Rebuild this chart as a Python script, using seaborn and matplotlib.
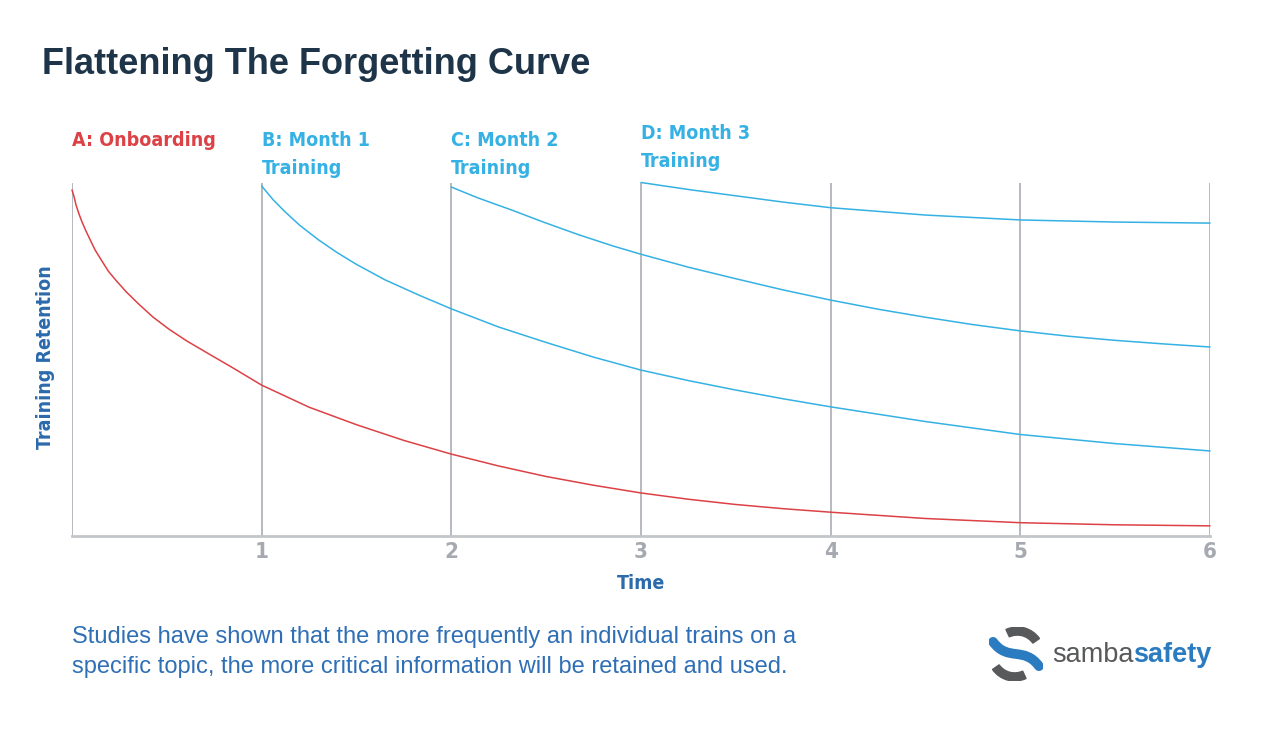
import numpy as np
import pandas as pd
import matplotlib
matplotlib.use("Agg")
import matplotlib.pyplot as plt
import seaborn as sns
from matplotlib.patches import Wedge, PathPatch
from matplotlib.path import Path

# Curvas de retención (tiempo en meses, retención 0-100)
a_time = [0, 0.011, 0.021, 0.037, 0.053, 0.074, 0.096, 0.122, 0.154, 0.191, 0.234, 0.287,
          0.351, 0.426, 0.511, 0.606, 0.713, 0.84, 1, 1.25, 1.5, 1.75, 2, 2.25, 2.5, 2.75,
          3, 3.25, 3.5, 3.75, 4, 4.5, 5, 5.5, 6]
a_ret = [98.9, 96.9, 94.6, 92.0, 89.7, 87.1, 84.6, 81.7, 78.9, 75.7, 72.9, 69.7,
         66.3, 62.6, 59.1, 55.7, 52.3, 48.3, 43.1, 36.8, 31.8, 27.3, 23.4, 20.0, 17.0, 14.5,
         12.3, 10.5, 9.0, 7.8, 6.8, 5.0, 3.8, 3.2, 2.9]

b_time = [1, 1.06, 1.12, 1.2, 1.3, 1.4, 1.5, 1.65, 1.83, 2, 2.25, 2.5, 2.75, 3, 3.25, 3.5,
          3.75, 4, 4.5, 5, 5.5, 6]
b_ret = [100, 96.1, 92.8, 88.8, 84.6, 80.9, 77.6, 73.2, 68.8, 64.9, 59.7, 55.3, 51.1, 47.4,
         44.4, 41.7, 39.2, 36.9, 32.7, 29.0, 26.4, 24.3]

c_time = [2, 2.14, 2.32, 2.49, 2.67, 2.85, 3, 3.25, 3.5, 3.75, 4, 4.25, 4.5, 4.75, 5, 5.25,
          5.5, 5.75, 6]
c_ret = [99.7, 96.6, 93.1, 89.6, 86.1, 82.9, 80.5, 76.8, 73.5, 70.3, 67.4, 64.8, 62.5, 60.4,
         58.6, 57.1, 55.9, 54.9, 54.0]

d_time = [3, 3.25, 3.5, 3.75, 4, 4.5, 5, 5.5, 6]
d_ret = [101.0, 99.0, 97.2, 95.4, 93.8, 91.7, 90.3, 89.7, 89.4]

labels = ["A: Onboarding", "B: Month 1\nTraining", "C: Month 2\nTraining", "D: Month 3\nTraining"]
label_x = [0, 1, 2, 3]
label_y = [113, 109, 109, 111]
month_ticks = [1, 2, 3, 4, 5, 6]

RED = "#dc4145"
BLUE = "#35b1e4"
NAVY = "#1e3549"
MIDBLUE = "#2b6aab"
GRAY = "#a9adb3"

df = pd.concat([
    pd.DataFrame({"time": a_time, "ret": a_ret, "serie": "A"}),
    pd.DataFrame({"time": b_time, "ret": b_ret, "serie": "B"}),
    pd.DataFrame({"time": c_time, "ret": c_ret, "serie": "C"}),
    pd.DataFrame({"time": d_time, "ret": d_ret, "serie": "D"}),
])

sns.set_style("white")
plt.rcParams["font.family"] = ["Liberation Sans", "DejaVu Sans"]
COND = dict(family="DejaVu Sans", fontstretch="condensed", fontweight="bold")

fig = plt.figure(figsize=(12.64, 7.29), dpi=100)
ax = fig.add_axes([72 / 1264, 193 / 729, 1138 / 1264, 357 / 729])

# lineas verticales de los meses
ax.vlines([0] + month_ticks, 0, 100.8, color=GRAY, lw=1.2, zorder=1)

sns.lineplot(data=df, x="time", y="ret", hue="serie", palette=[RED, BLUE, BLUE, BLUE],
             estimator=None, sort=False, lw=1.1, legend=False, ax=ax, zorder=3)
for l in ax.lines:
    l.set_clip_on(False)

ax.set_xlim(0, 6)
ax.set_ylim(0, 102)
for s in ["top", "right", "left"]:
    ax.spines[s].set_visible(False)
ax.spines["bottom"].set_color("#c3c6ca")
ax.spines["bottom"].set_linewidth(2)
ax.set_yticks([])
ax.set_xticks(month_ticks)
ax.set_xticklabels([str(m) for m in month_ticks], fontsize=16, color="#a6aab0", **COND)
ax.tick_params(axis="x", length=0, pad=4)
ax.set_xlabel("Time", fontsize=14, color=MIDBLUE, labelpad=9, **COND)
ax.set_ylabel("Training Retention", fontsize=14, color=MIDBLUE, labelpad=12, **COND)

# etiquetas de cada curva
for i, (lab, xx, yy) in enumerate(zip(labels, label_x, label_y)):
    ax.text(xx, yy, lab, fontsize=14, color=RED if i == 0 else BLUE, ha="left",
            va="center", linespacing=1.55, clip_on=False, **COND)

# titulo y texto inferior
fig.text(42 / 1264, 1 - 65 / 729, "Flattening The Forgetting Curve", fontsize=26,
         fontweight="bold", color=NAVY, ha="left", va="center")
fig.text(72 / 1264, 1 - 652 / 729,
         "Studies have shown that the more frequently an individual trains on a\n"
         "specific topic, the more critical information will be retained and used.",
         fontsize=17, color="#2f6fb5", ha="left", va="center", linespacing=1.47)

# logo sambasafety
t1 = fig.text(1052 / 1264, 1 - 662 / 729, "samba", fontsize=19.5, color="#58595b",
              ha="left", va="baseline")
fig.canvas.draw()
bb = t1.get_window_extent()
fig.text(bb.x1 / 1264, 1 - 662 / 729, "safety", fontsize=19.5, fontweight="bold",
         color="#2a7bc0", ha="left", va="baseline")

lax = fig.add_axes([989 / 1264, 1 - 681 / 729, 54 / 1264, 54 / 729])
lax.set_xlim(-1, 1)
lax.set_ylim(-1, 1)
lax.set_aspect("equal")
lax.axis("off")
lax.add_patch(Wedge((0.05, 0.0), 1.0, 35, 115, width=0.3, color="#58595b"))
lax.add_patch(Wedge((-0.05, 0.0), 1.0, 215, 295, width=0.3, color="#58595b"))
s_path = Path([(-0.85, 0.45), (-0.3, -0.3), (0.3, 0.3), (0.85, -0.45)],
              [Path.MOVETO, Path.CURVE4, Path.CURVE4, Path.CURVE4])
lax.add_patch(PathPatch(s_path, fill=False, lw=7, edgecolor="#2a7bc0", capstyle="round"))

fig.savefig("out.png", dpi=100, facecolor="white")
